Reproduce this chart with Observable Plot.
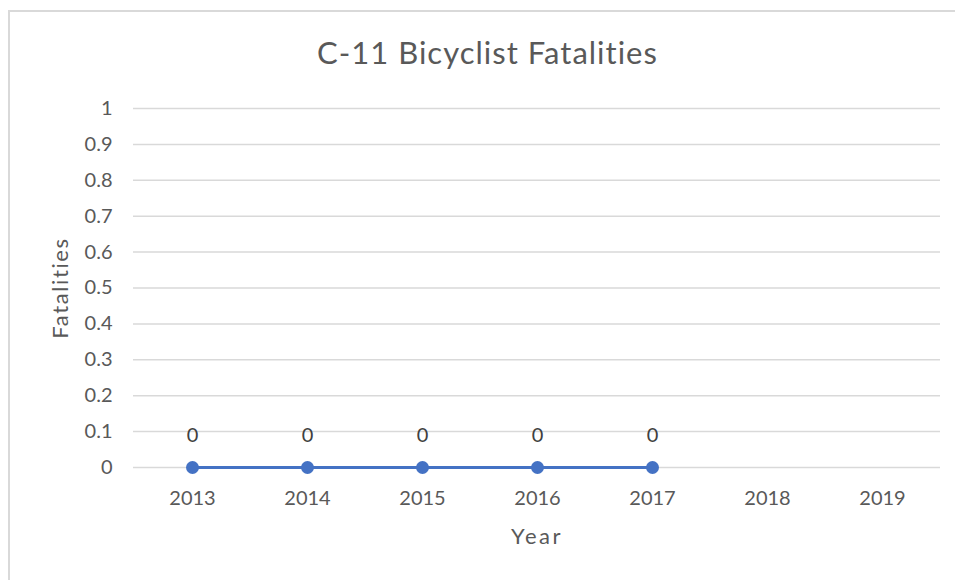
<!DOCTYPE html>
<html>
<head>
<meta charset="utf-8">
<script src="https://cdn.jsdelivr.net/npm/d3@7"></script>
<script src="https://cdn.jsdelivr.net/npm/@observablehq/plot@0.6"></script>
<style>
  html, body { margin: 0; padding: 0; background: #fff; overflow: hidden; }
  body { width: 955px; height: 580px; position: relative; font-family: Lato, "Open Sans", sans-serif; }
  #frame { position: absolute; left: 8px; top: 10px; width: 1000px; height: 1000px; border: 2px solid #d9d9d9; box-sizing: border-box; }
  #title { position: absolute; left: 0; top: 34px; width: 100%; text-align: center; padding-left: 20px; box-sizing: border-box; font-size: 31px; letter-spacing: 1px; line-height: 37px; color: #595959; }
  #chart { position: absolute; left: 0; top: 80px; }
</style>
</head>
<body>
<div id="frame"></div>
<div id="title">C-11 Bicyclist Fatalities</div>
<div id="chart"></div>
<script>
const years = ["2013", "2014", "2015", "2016", "2017", "2018", "2019"];
const fatalities = [0, 0, 0, 0, 0, null, null];
const yTicks = [0, 0.1, 0.2, 0.3, 0.4, 0.5, 0.6, 0.7, 0.8, 0.9, 1];
const xTitle = "Year";
const yTitle = "Fatalities";

const data = years.map((y, i) => ({year: y, value: fatalities[i]}));
const known = data.filter(d => d.value != null);

const chart = Plot.plot({
  width: 955,
  height: 500,
  marginLeft: 133,
  marginRight: 15,
  marginTop: 28,
  marginBottom: 113,
  style: {fontFamily: "Lato, 'Open Sans', sans-serif", fontSize: "20px", color: "#595959", background: "transparent", overflow: "visible"},
  x: {type: "point", domain: years, padding: 0.5},
  y: {domain: [0, 1]},
  marks: [
    Plot.gridY(yTicks, {stroke: "#d9d9d9", strokeOpacity: 1, strokeWidth: 1.5}),
    Plot.axisY({ticks: yTicks, tickSize: 0, tickPadding: 21, tickFormat: d => String(d), fill: "#595959", fontSize: 20, label: null}),
    Plot.axisX({tickSize: 0, tickPadding: 23, fill: "#595959", fontSize: 20, label: null}),
    Plot.text([yTitle], {frameAnchor: "left", text: d => d, rotate: -90, dx: -73, fill: "#595959", fontSize: 22, textAnchor: "middle", lineAnchor: "middle"}),
    Plot.text([xTitle], {frameAnchor: "bottom", text: d => d, dy: 69, fill: "#595959", fontSize: 22, textAnchor: "middle", lineAnchor: "middle"}),
    Plot.line(data, {x: "year", y: "value", stroke: "#4472C4", strokeWidth: 3.2}),
    Plot.dot(known, {x: "year", y: "value", r: 6.5, fill: "#4472C4", stroke: "none"}),
    Plot.text(known, {x: "year", y: "value", text: d => String(d.value), dy: -32, fill: "#404040", fontSize: 20})
  ]
});
d3.select(chart).selectAll("text")
  .filter(function() { return this.textContent === yTitle; })
  .attr("letter-spacing", "1.6px");
d3.select(chart).selectAll("text")
  .filter(function() { return this.textContent === xTitle; })
  .attr("letter-spacing", "2.5px");
document.getElementById("chart").appendChild(chart);
</script>
</body>
</html>
